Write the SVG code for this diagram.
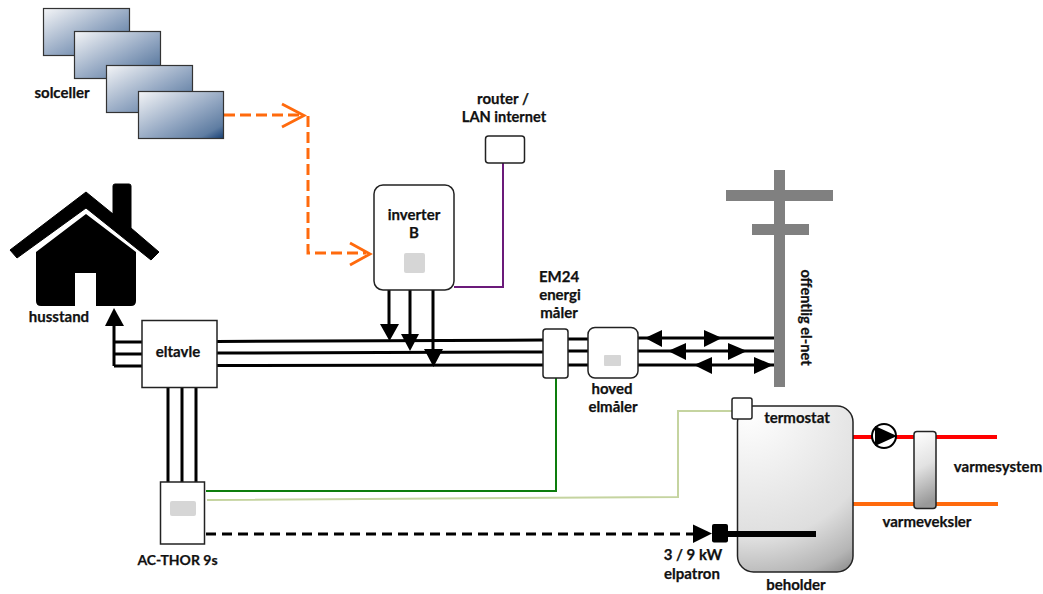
<svg xmlns="http://www.w3.org/2000/svg" width="1043" height="594" viewBox="0 0 1043 594">
<style>
text{font-family:Lato,"Liberation Sans",sans-serif;font-weight:700;font-size:15px;fill:#111;stroke:#111;stroke-width:.25;text-anchor:middle}
.box{fill:#fff;stroke:#222;stroke-width:1.5}
.panel{fill:url(#pv);stroke:#333;stroke-width:1.2}
.w{fill:none;stroke:#000;stroke-width:3}
.or{fill:none;stroke:#ff6a0d;stroke-width:3;stroke-dasharray:11 5}
.scr{fill:#d6d6d6}
</style>
<defs>
<linearGradient id="pv" x1="0" y1="0" x2="1" y2="1"><stop offset="0" stop-color="#f4f5f7"/><stop offset=".55" stop-color="#93a7c2"/><stop offset=".85" stop-color="#5f7da2"/><stop offset="1" stop-color="#173f74"/></linearGradient>
<radialGradient id="tank" gradientUnits="userSpaceOnUse" cx="750" cy="410" r="200"><stop offset="0" stop-color="#fff"/><stop offset=".65" stop-color="#dedede"/><stop offset=".85" stop-color="#b5b5b5"/><stop offset="1" stop-color="#777"/></radialGradient>
<linearGradient id="hx" x1="0" y1="0" x2="0.15" y2="1"><stop offset="0" stop-color="#fff"/><stop offset=".5" stop-color="#e2e2e2"/><stop offset="1" stop-color="#999"/></linearGradient>
</defs>
<g id="connectors">
<path class="or" d="M224 115H302"/>
<path class="or" d="M308 116V253H366"/>
<path d="M282 104L304 115.500L282 127M350 243L370 254L350 265" fill="none" stroke="#ff6a0d" stroke-width="2.800"/>
<path d="M454 287H503V163" fill="none" stroke="#6b1a7a" stroke-width="2"/>
<path class="w" d="M114 342H142M114 354H142M114 366H142M114 366V322"/>
<path d="M105 326L114 308L124 326Z"/>
<path class="w" d="M217 341.500L543 340M217 353L543 352M217 365.500L543 365M568 339H588M568 351H588M568 365H588M638 338H775M638 351H775M638 365H775"/>
<path class="w" d="M389 290V325M410 290V335M433 290V352"/>
<path d="M380 324H399L389.500 341ZM401 334H419L410 351ZM424 349H443L433.500 367Z"/>
<path d="M645 338L662 330V347ZM704 330L722 338L704 347ZM668 351L686 343V360ZM728 343L747 351L728 360ZM694 365L712 357V374ZM754 357L773 365L754 374Z"/>
<path class="w" d="M168 388V482M182 388V482M196 388V482"/>
<path d="M206 491H556V378" fill="none" stroke="#0d7d0d" stroke-width="2"/>
<path d="M207 500L678 497V411H732" fill="none" stroke="#c5d4a0" stroke-width="2"/>
<path d="M206 534H695" fill="none" stroke="#000" stroke-width="3" stroke-dasharray="10 6"/>
<path d="M693 524.500L712 533.500L693 543Z"/>
<path d="M853 437H997" stroke="#f00" stroke-width="4" fill="none"/>
<path d="M853 504H998" stroke="#ff6a0d" stroke-width="4" fill="none"/>
</g>
<g id="solceller">
<rect class="panel" x="43.500" y="8.500" width="86" height="47"/>
<rect class="panel" x="74.500" y="31.500" width="86" height="47"/>
<rect class="panel" x="106.500" y="65.500" width="86" height="47"/>
<rect class="panel" x="138.500" y="91.500" width="85" height="47"/>
<text x="62" y="98">solceller</text>
</g>
<g id="husstand">
<path d="M36 252L86 214L136 252V301Q136 306 131 306H96V273H75V306H41Q36 306 36 301Z"/>
<path d="M10 250L86 192L113 214V186Q113 184 115 184H129Q131 184 131 186V228L159 252L151 260L86 208L17 258Z" stroke="#000" stroke-width="1" stroke-linejoin="round"/>
<text x="59" y="322">husstand</text>
</g>
<g id="router"><rect class="box" x="485.500" y="136" width="39" height="27" rx="3"/>
<text x="503" y="104">router /</text><text x="504" y="122" style="font-size:14.600px">LAN internet</text></g>
<g id="inverter"><rect class="box" x="374" y="185" width="80" height="105" rx="9"/><rect class="scr" x="404" y="253" width="21" height="20" rx="2"/>
<text x="414" y="220">inverter</text><text x="414" y="238">B</text></g>
<g id="em24"><rect class="box" x="543" y="329" width="25" height="49" rx="3"/>
<text x="559" y="282">EM24</text><text x="560" y="300">energi</text><text x="559" y="318">måler</text></g>
<g id="hoved"><rect class="box" x="588" y="327.500" width="50" height="50.500" rx="7"/><rect class="scr" x="604" y="355" width="17" height="11" rx="1"/>
<text x="612" y="394">hoved</text><text x="613" y="412">elmåler</text></g>
<g id="net"><path d="M774 170H785V387H774ZM726 190H833V201H726ZM752 224H809V235H752Z" fill="#808080"/>
<text transform="translate(801 317.500) rotate(90)" style="font-size:14.600px">offentlig el-net</text></g>
<g id="eltavle"><rect class="box" x="142" y="320.500" width="75" height="67"/><text x="178" y="357">eltavle</text></g>
<g id="acthor"><rect class="box" x="160.500" y="482" width="44" height="62"/><rect class="scr" x="170" y="501" width="26" height="15" rx="2"/><text x="177.500" y="565" style="font-size:14px">AC-THOR 9s</text></g>
<g id="beholder"><rect x="737.500" y="406" width="115.500" height="166" rx="16" fill="url(#tank)" stroke="#222" stroke-width="1.500"/>
<text x="797" y="423">termostat</text><text x="796" y="590">beholder</text></g>
<g id="termostat"><rect class="box" x="732" y="398" width="20" height="21" rx="2"/></g>
<g id="elpatron"><rect x="712" y="524" width="16" height="18.500" rx="2"/><rect x="726" y="531" width="90" height="6"/><text x="693" y="560">3 / 9 kW</text><text x="692" y="579">elpatron</text></g>
<g id="pumpe"><circle cx="884" cy="436" r="12" fill="#fff" stroke="#000" stroke-width="2"/><path d="M875 426L897 436L875 446Z"/></g>
<g id="varmeveksler"><rect x="914" y="431.500" width="22" height="77" rx="3" fill="url(#hx)" stroke="#222" stroke-width="1.500"/><text x="927" y="527">varmeveksler</text></g>
<text id="varmesystem" x="998" y="472">varmesystem</text>
</svg>
